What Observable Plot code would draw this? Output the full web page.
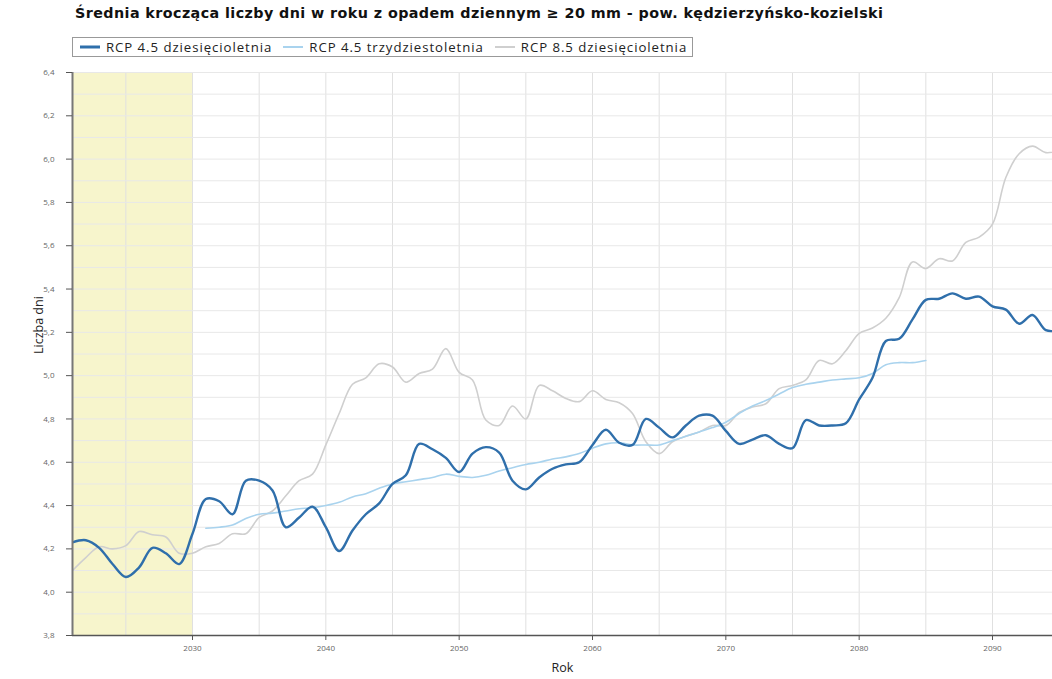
<!DOCTYPE html>
<html>
<head>
<meta charset="utf-8">
<script src="https://cdn.jsdelivr.net/npm/d3@7"></script>
<script src="https://cdn.jsdelivr.net/npm/@observablehq/plot@0.6"></script>
<style>
  html, body { margin: 0; padding: 0; background: #fff; }
  body { width: 1052px; height: 679px; position: relative; overflow: hidden; font-family: "Open Sans", Lato, sans-serif; }
  #title { position: absolute; left: 75px; top: 5px; font-family: "DejaVu Sans", sans-serif; font-size: 14.3px; letter-spacing: 0.42px; font-weight: bold; color: #111; white-space: nowrap; }
  #legend { position: absolute; left: 72px; top: 37px; height: 18px; border: 1px solid #999; display: flex; align-items: center; padding: 0 5px 0 7px; font-size: 13.2px; letter-spacing: 0.95px; color: #222; white-space: nowrap; }
  #legend .item { display: flex; align-items: center; margin-right: 11px; }
  #legend .item:last-child { margin-right: 0; }
  #legend svg { margin-right: 6px; }
  #chart { position: absolute; left: 0; top: 60px; }
</style>
</head>
<body>
<div id="title">Średnia krocząca liczby dni w roku z opadem dziennym ≥ 20 mm - pow. kędzierzyńsko-kozielski</div>
<div id="legend"></div>
<div id="chart"></div>
<script>
// ---- data ----
const years10 = d3.range(2021, 2096);          // 2021..2095
const years30 = d3.range(2031, 2086);          // 2031..2085

const rcp45_10 = [
  4.23, 4.24, 4.205, 4.13, 4.07, 4.115, 4.205, 4.18, 4.13, 4.27,
  4.43, 4.42, 4.36, 4.515, 4.515, 4.47, 4.30, 4.345, 4.395, 4.30,
  4.19, 4.285, 4.36, 4.41, 4.50, 4.54, 4.685, 4.66, 4.62, 4.555,
  4.64, 4.67, 4.645, 4.515, 4.475, 4.53, 4.57, 4.59, 4.60, 4.68,
  4.75, 4.69, 4.68, 4.80, 4.76, 4.715, 4.77, 4.815, 4.815, 4.745,
  4.685, 4.705, 4.725, 4.685, 4.665, 4.795, 4.77, 4.77, 4.78, 4.89,
  4.99, 5.16, 5.17, 5.26, 5.35, 5.355, 5.38, 5.355, 5.365, 5.32,
  5.305, 5.24, 5.28, 5.21, 5.21
];
const rcp45_30 = [
  4.295, 4.30, 4.31, 4.34, 4.36, 4.365, 4.375, 4.385, 4.39, 4.40,
  4.415, 4.44, 4.455, 4.48, 4.50, 4.51, 4.52, 4.53, 4.545, 4.535,
  4.53, 4.54, 4.56, 4.575, 4.59, 4.60, 4.615, 4.625, 4.64, 4.665,
  4.685, 4.69, 4.68, 4.68, 4.68, 4.70, 4.72, 4.74, 4.76, 4.785,
  4.825, 4.86, 4.885, 4.915, 4.945, 4.96, 4.97, 4.98, 4.985, 4.99,
  5.01, 5.05, 5.06, 5.06, 5.07
];
const rcp85_10 = [
  4.10, 4.16, 4.21, 4.20, 4.215, 4.28, 4.265, 4.255, 4.18, 4.18,
  4.21, 4.225, 4.27, 4.27, 4.345, 4.375, 4.445, 4.515, 4.545, 4.68,
  4.825, 4.96, 4.99, 5.055, 5.04, 4.97, 5.01, 5.03, 5.125, 5.015,
  4.98, 4.795, 4.77, 4.86, 4.80, 4.955, 4.93, 4.895, 4.88, 4.93,
  4.89, 4.875, 4.825, 4.695, 4.64, 4.695, 4.72, 4.74, 4.77, 4.77,
  4.83, 4.855, 4.87, 4.94, 4.955, 4.98, 5.07, 5.055, 5.115, 5.195,
  5.22, 5.265, 5.36, 5.525, 5.495, 5.54, 5.53, 5.615, 5.64, 5.70,
  5.915, 6.025, 6.06, 6.03, 6.04
];
const seriesNames = ["RCP 4.5 dziesięcioletnia", "RCP 4.5 trzydziestoletnia", "RCP 8.5 dziesięcioletnia"];
const seriesColors = ["#2f6fab", "#a9d3ee", "#cfcfcf"];
const seriesWidths = [2.4, 1.6, 1.6];
const referencePeriod = [{start: 2021, end: 2030}];
const xTicks = [2030, 2040, 2050, 2060, 2070, 2080, 2090];
const yTicks = [3.8, 4.0, 4.2, 4.4, 4.6, 4.8, 5.0, 5.2, 5.4, 5.6, 5.8, 6.0, 6.2, 6.4];
const xGrid = d3.range(2025, 2095, 5);
const yGrid = d3.range(38, 65).map(d => d / 10);
const xDomain = [2021, 2094.5];
const yDomain = [3.8, 6.4];

// ---- tables ----
const s45_10 = years10.map((y, i) => ({year: y, value: rcp45_10[i]}));
const s45_30 = years30.map((y, i) => ({year: y, value: rcp45_30[i]}));
const s85_10 = years10.map((y, i) => ({year: y, value: rcp85_10[i]}));

// ---- legend ----
const legend = document.getElementById("legend");
seriesNames.forEach((name, i) => {
  const it = document.createElement("div");
  it.className = "item";
  it.innerHTML = `<svg width="20" height="6"><line x1="0" x2="20" y1="3" y2="3" stroke="${seriesColors[i]}" stroke-width="${i === 0 ? 3 : 2}"/></svg><span>${name}</span>`;
  legend.appendChild(it);
});

const comma = d => d.toFixed(1).replace(".", ",");

const chart = Plot.plot({
  width: 1052,
  height: 619,
  marginLeft: 72,
  marginRight: 0,
  marginTop: 12,
  marginBottom: 44,
  style: {fontFamily: "'Open Sans', Lato, sans-serif", background: "transparent"},
  x: {domain: xDomain, label: null},
  y: {domain: yDomain, label: null},
  marks: [
    Plot.rect(referencePeriod, {x1: "start", x2: "end", fill: "#f7f5cc"}),
    Plot.gridX(xGrid, {stroke: "#e0e0e0", strokeOpacity: 1, strokeWidth: 1}),
    Plot.gridY(yGrid, {stroke: "#e8e8e8", strokeOpacity: 1, strokeWidth: 1}),
    Plot.line(s85_10, {x: "year", y: "value", stroke: seriesColors[2], strokeWidth: seriesWidths[2], curve: "catmull-rom", clip: true}),
    Plot.line(s45_30, {x: "year", y: "value", stroke: seriesColors[1], strokeWidth: seriesWidths[1], curve: "catmull-rom", clip: true}),
    Plot.line(s45_10, {x: "year", y: "value", stroke: seriesColors[0], strokeWidth: seriesWidths[0], curve: "catmull-rom", clip: true}),
    Plot.ruleY([yDomain[0]], {stroke: "#555", strokeWidth: 1.5}),
    Plot.ruleX([xDomain[0]], {stroke: "#777", strokeWidth: 2}),
    Plot.axisX(xTicks, {tickSize: 5, tickPadding: 5, fontSize: 8, fill: "#666", stroke: "#555", tickFormat: d => String(d), label: null}),
    Plot.axisY(yTicks, {tickSize: 6, tickPadding: 12, fontSize: 8, fill: "#666", stroke: "#555", tickFormat: comma, label: null}),
    Plot.text(["Rok"], {frameAnchor: "bottom", dy: 36, fontSize: 12.5, fill: "#222"}),
    Plot.text(["Liczba dni"], {frameAnchor: "left", dx: -34, rotate: -90, fontSize: 12.5, fill: "#222"})
  ]
});
document.getElementById("chart").appendChild(chart);
</script>
</body>
</html>
